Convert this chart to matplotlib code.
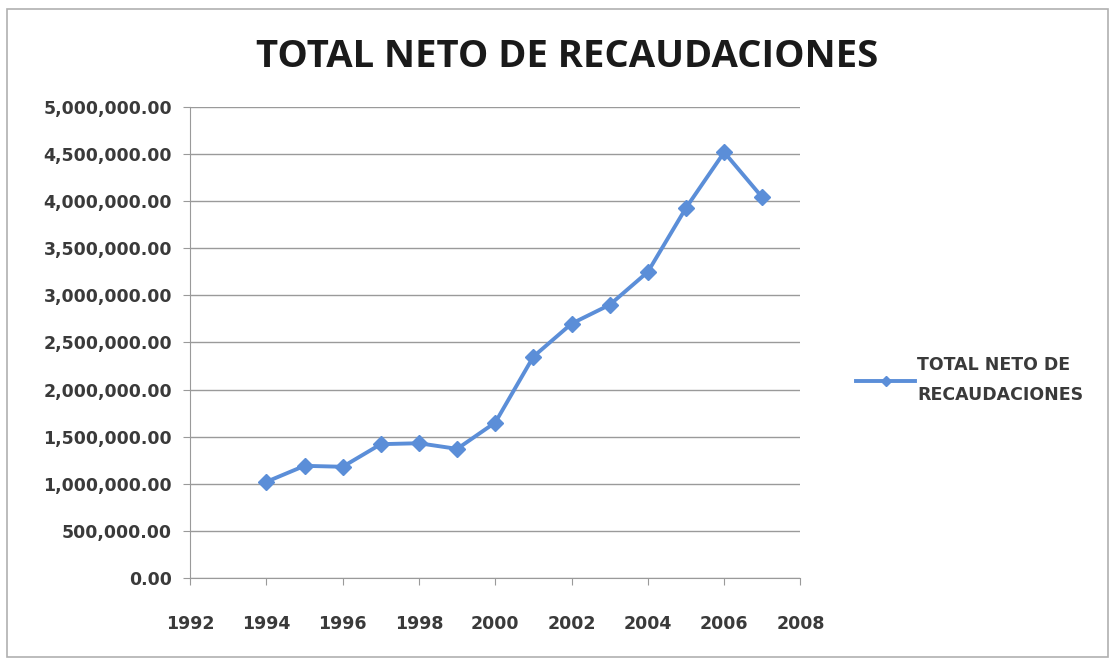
# Total neto de recaudaciones, 1994-2007
import matplotlib.pyplot as plt
from matplotlib.ticker import FuncFormatter, MultipleLocator
from matplotlib.patches import Rectangle

years = [1994, 1995, 1996, 1997, 1998, 1999, 2000, 2001, 2002, 2003, 2004, 2005, 2006, 2007]
totals = [1020000, 1190000, 1180000, 1420000, 1430000, 1370000, 1650000,
          2350000, 2700000, 2900000, 3250000, 3930000, 4520000, 4040000]

series_name = 'TOTAL NETO DE\nRECAUDACIONES'
title = 'TOTAL NETO DE RECAUDACIONES'

plt.rcParams['font.family'] = ['DejaVu Sans']

fig = plt.figure(figsize=(11.18, 6.65), dpi=100)
ax = fig.add_axes([0.170, 0.131, 0.546, 0.708])

line_color = '#5b8ed8'
ax.plot(years, totals, color=line_color, linewidth=2.8, marker='D', markersize=8,
        label=series_name, zorder=3)

ax.set_xlim(1992, 2008)
ax.set_ylim(0, 5000000)
ax.xaxis.set_major_locator(MultipleLocator(2))
ax.yaxis.set_major_locator(MultipleLocator(500000))
ax.yaxis.set_major_formatter(FuncFormatter(lambda v, p: f'{v:,.2f}'))

ax.grid(axis='y', color='#9a9a9a', linewidth=1)
ax.set_axisbelow(True)
for side in ['top', 'right']:
    ax.spines[side].set_visible(False)
for side in ['left', 'bottom']:
    ax.spines[side].set_color('#9a9a9a')
ax.tick_params(axis='both', colors='#9a9a9a', labelcolor='#3a3a3a', labelsize=12.5, length=5)
ax.tick_params(axis='y', pad=8)
ax.tick_params(axis='x', pad=22)
for lbl in ax.get_xticklabels() + ax.get_yticklabels():
    lbl.set_fontweight('bold')

fig.text(0.507, 0.915, title, ha='center', va='center', fontsize=27.5, fontweight='bold',
         color='#1a1a1a', family=['Open Sans', 'DejaVu Sans'])

leg = ax.legend(loc='center left', bbox_to_anchor=(1.066, 0.42), frameon=False,
                handlelength=3.4, handletextpad=0.1, markerscale=0.6,
                prop={'size': 12.5, 'weight': 'bold'})
for t in leg.get_texts():
    t.set_color('#3a3a3a')
    t.set_linespacing(1.9)

# outer chart border
fig.patches.append(Rectangle((0.006, 0.012), 0.985, 0.975, transform=fig.transFigure,
                             fill=False, edgecolor='#b0b0b0', linewidth=1.2))

fig.savefig('out.png', dpi=100)
